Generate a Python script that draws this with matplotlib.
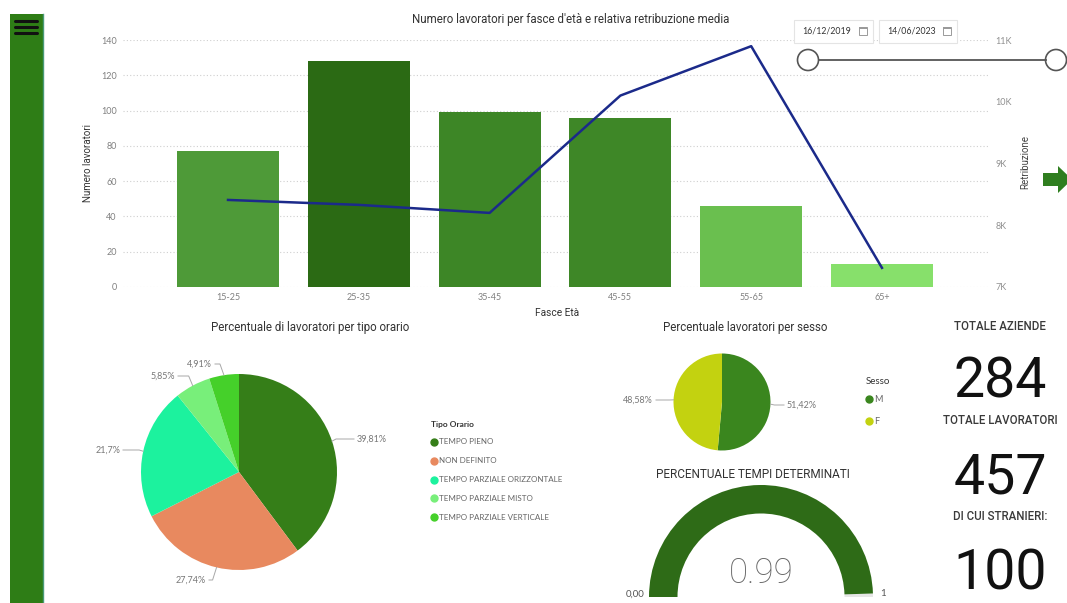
import numpy as np
import matplotlib.pyplot as plt
import matplotlib.patches as mpatches

plt.rcParams['font.family'] = ['Lato', 'DejaVu Sans']
TITLE_FONT = ['Roboto', 'DejaVu Sans']

W, H = 1067, 603

# ---- data ----
fasce = ['15-25', '25-35', '35-45', '45-55', '55-65', '65+']
n_lavoratori = [77, 128, 99, 96, 46, 13]
retribuzione = [8410, 8330, 8200, 10100, 10900, 7310]

tipo_orario = ['TEMPO PIENO', 'NON DEFINITO', 'TEMPO PARZIALE ORIZZONTALE',
               'TEMPO PARZIALE MISTO', 'TEMPO PARZIALE VERTICALE']
tipo_perc = [39.81, 27.74, 21.7, 5.85, 4.91]

sesso = ['M', 'F']
sesso_perc = [51.42, 48.58]

tempi_determinati = 0.99

kpi_titles = ['TOTALE AZIENDE', 'TOTALE LAVORATORI', 'DI CUI STRANIERI:']
kpi_values = [284, 457, 100]

date_range = ['16/12/2019', '14/06/2023']

# ---- styles ----
bar_colors = ['#4e9a38', '#2b6a14', '#3d8626', '#3e8727', '#6abf4f', '#87e06b']
tipo_colors = ['#357e18', '#e8895f', '#1cf29e', '#78ef7a', '#45d02a']
sesso_colors = ['#3a861e', '#c3d210']


def Y(y):
    # pixel row (from top) -> overlay coordinate
    return H - y


def px_axes(x0, y0, x1, y1):
    return fig.add_axes([x0 / W, 1 - y1 / H, (x1 - x0) / W, (y1 - y0) / H])


def perc(v):
    return f'{v:g}'.replace('.', ',') + '%'


fig = plt.figure(figsize=(W / 100, H / 100), dpi=100)

# ---- bar + line chart ----
ax = px_axes(123, 40, 990, 287)
x = np.arange(len(fasce))
ax.bar(x, n_lavoratori, width=0.78, color=bar_colors, zorder=2)
ax.set_xlim(-0.803, 5.826)
ax.set_ylim(0, 140)
ax.set_yticks(range(0, 141, 20))
ax.set_xticks(x, fasce)
ax.grid(axis='y', linestyle=(0, (1, 2)), color='#cfcfcf', lw=0.8)
ax.set_axisbelow(True)
for s in ax.spines.values():
    s.set_visible(False)
ax.tick_params(length=0, labelsize=6.5, labelcolor='#808080')
ax.tick_params(axis='y', pad=4.5)
ax.tick_params(axis='x', pad=4)

ax2 = ax.twinx()
ax2.plot(x, retribuzione, color='#1b2a8a', lw=1.8)
ax2.set_ylim(7000, 11000)
ticks_r = list(range(7000, 11001, 1000))
ax2.set_yticks(ticks_r, [f'{t // 1000}K' for t in ticks_r])
for s in ax2.spines.values():
    s.set_visible(False)
ax2.tick_params(length=0, labelsize=6.5, labelcolor='#909090', pad=4)

# ---- overlay for everything else ----
ov = fig.add_axes([0, 0, 1, 1])
ov.axis('off')

# sidebar
ov.add_patch(mpatches.Rectangle((10, 0), 33, Y(14), color='#2e7d16', lw=0))
ov.plot([42.5, 42.5], [0, Y(14)], color='#4a9a78', lw=1)
for yy in (21, 27, 33):
    ov.plot([15, 37], [Y(yy), Y(yy)], color='#111111', lw=2.2, solid_capstyle='round')

# chart texts
ov.text(571, Y(20), "Numero lavoratori per fasce d'età e relativa retribuzione media",
        ha='center', va='center', fontsize=8.3, color='#333333', family=TITLE_FONT)
ov.text(88, Y(163), 'Numero lavoratori', rotation=90, ha='center', va='center',
        fontsize=7, color='#333333', family=TITLE_FONT)
ov.text(1025, Y(162), 'Retribuzione', rotation=90, ha='center', va='center',
        fontsize=7, color='#444444', family=TITLE_FONT)
ov.text(557, Y(313), 'Fasce Età', ha='center', va='center', fontsize=7.3,
        color='#333333', family=TITLE_FONT)

# date slicer
for (bx0, bx1, tx), label in zip([(794, 873, 802), (879, 957, 887)], date_range):
    ov.add_patch(mpatches.Rectangle((bx0, Y(43)), bx1 - bx0, 23, fc='white',
                                    ec='#e4e4e4', lw=0.8))
    ov.text(tx, Y(31.5), label, ha='left', va='center', fontsize=6.3, color='#333333')
    ix = bx1 - 14
    ov.add_patch(mpatches.Rectangle((ix, Y(35)), 8, 8, fc='white', ec='#9a9a9a', lw=0.7))
    ov.add_patch(mpatches.Rectangle((ix, Y(29)), 8, 2, fc='#9a9a9a', lw=0))
ov.plot([818.5, 1045.5], [Y(60), Y(60)], color='#555555', lw=1.3)
for cx in (808, 1056):
    ov.add_patch(mpatches.Circle((cx, Y(60)), 10.5, fc='white', ec='#555555', lw=1.2))

# arrow
ov.add_patch(mpatches.Polygon([(1043, Y(173)), (1058, Y(173)), (1058, Y(166)), (1072, Y(179.5)),
                               (1058, Y(193)), (1058, Y(186)), (1043, Y(186))],
                              closed=True, fc='#2f7e1f', lw=0))


def pie_with_labels(values, colors, center, radius, text_pos):
    wedges, _ = ov.pie(values, colors=colors, startangle=90, counterclock=False,
                       center=center, radius=radius, wedgeprops=dict(lw=0))
    cx, cy = center
    for w, v, (tx, ty, ha) in zip(wedges, values, text_pos):
        mid = np.deg2rad((w.theta1 + w.theta2) / 2)
        ex, ey = cx + radius * np.cos(mid), cy + radius * np.sin(mid)
        sign = 1 if ha == 'left' else -1
        elx = ex + sign * 4
        ov.plot([ex, elx, tx - sign * 3], [ey, Y(ty), Y(ty)], color='#a8a8a8', lw=0.7)
        ov.text(tx, Y(ty), perc(v), ha=ha, va='center', fontsize=6.5, color='#777777')


# pie tipo orario
ov.text(310, Y(328), 'Percentuale di lavoratori per tipo orario', ha='center', va='center',
        fontsize=8.3, color='#333333', family=TITLE_FONT)
pie_with_labels(tipo_perc, tipo_colors, (239, Y(472)), 98,
                [(357, 439, 'left'), (206, 580, 'right'), (120, 450, 'right'),
                 (175, 376, 'right'), (212, 364, 'right')])
ov.text(431, Y(425), 'Tipo Orario', ha='left', va='center', fontsize=6,
        color='#333333', fontweight='bold')
for i, (name, col) in enumerate(zip(tipo_orario, tipo_colors)):
    yy = Y(442 + i * 18.8)
    ov.plot([434], [yy], 'o', ms=5, color=col)
    ov.text(439, yy, name, ha='left', va='center', fontsize=5.8, color='#666666')

# pie sesso
ov.text(745, Y(328), 'Percentuale lavoratori per sesso', ha='center', va='center',
        fontsize=8.3, color='#333333', family=TITLE_FONT)
pie_with_labels(sesso_perc, sesso_colors, (722, Y(402)), 48.5,
                [(787, 405, 'left'), (653, 400, 'right')])
ov.text(866, Y(382), 'Sesso', ha='left', va='center', fontsize=7, color='#333333')
for i, (name, col) in enumerate(zip(sesso, sesso_colors)):
    yy = Y(399 + i * 22)
    ov.plot([869], [yy], 'o', ms=5, color=col)
    ov.text(874, yy, name, ha='left', va='center', fontsize=6.5, color='#666666')

# gauge
ov.text(753, Y(475), 'PERCENTUALE TEMPI DETERMINATI', ha='center', va='center',
        fontsize=8.5, color='#333333', family=TITLE_FONT)
gx, gy, r_out, r_in = 761, Y(597), 112, 83.5
split = 180 * (1 - tempi_determinati)
ov.add_patch(mpatches.Wedge((gx, gy), r_out, 0, split, width=r_out - r_in, fc='#e6e6e6', lw=0))
ov.add_patch(mpatches.Wedge((gx, gy), r_out, split, 180, width=r_out - r_in, fc='#2e6b17', lw=0))
ov.text(gx, Y(573), f'{tempi_determinati:.2f}', ha='center', va='center', fontsize=25,
        color='#666666', family=TITLE_FONT, fontweight='light')
ov.text(644, Y(594), '0,00', ha='right', va='center', fontsize=7, color='#555555')
ov.text(880, Y(594), '1', ha='left', va='center', fontsize=7, color='#555555')

# KPI cards
for title, val, ty, vy in zip(kpi_titles, kpi_values, [327, 421, 517], [398, 493, 590]):
    ov.text(1000, Y(ty), title, ha='center', va='center', fontsize=8.3,
            color='#3a3a3a', family=TITLE_FONT, fontweight='medium')
    ov.text(1000, Y(vy), str(val), ha='center', va='baseline', fontsize=40,
            color='#111111', family=TITLE_FONT)

ov.set_xlim(0, W)
ov.set_ylim(0, H)
ov.set_aspect('auto')

fig.savefig('out.png', dpi=100)
